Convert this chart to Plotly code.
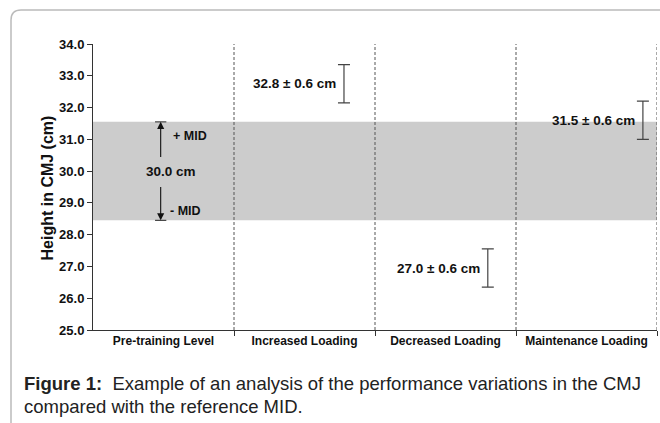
import plotly.graph_objects as go

# ---- data ----
categories = ["Pre-training Level", "Increased Loading", "Decreased Loading", "Maintenance Loading"]
baseline = 30.0
mid = 1.55
phase_means = [32.75, 26.95, 31.6]
phase_sd = [0.6, 0.6, 0.6]
phase_labels = ["32.8 ± 0.6 cm", "27.0 ± 0.6 cm", "31.5 ± 0.6 cm"]
phase_xpos = [1.78, 2.80, 3.90]
y_ticks = [25.0, 26.0, 27.0, 28.0, 29.0, 30.0, 31.0, 32.0, 33.0, 34.0]

W, H = 660, 423
L, R, T, B = 93, 3, 44, 93
pw, ph = W - L - R, H - T - B

def px(x):
    return (x - L) / pw

def py(y):
    return (H - B - y) / ph

FONT_N = "Liberation Sans, Arial, sans-serif"
FONT = "Liberation Sans, Arial, sans-serif"
INK = "#111111"

fig = go.Figure()

# MID band
fig.add_shape(type="rect", xref="x", yref="y", x0=0, x1=4,
              y0=baseline - mid, y1=baseline + mid,
              fillcolor="#cccccc", line_width=0, layer="below")

# dividers
for i in range(1, len(categories) + 1):
    fig.add_shape(type="line", xref="x", yref="y", x0=i, x1=i, y0=y_ticks[0], y1=y_ticks[-1],
                  line=dict(color="#555555", width=1, dash="3px,2px"), layer="above")

# error bars
fig.add_trace(go.Scatter(
    x=phase_xpos, y=phase_means, mode="markers",
    marker=dict(size=1, color="rgba(0,0,0,0)"),
    error_y=dict(type="data", array=phase_sd, visible=True, color="#444444", thickness=1.2, width=6),
    hoverinfo="skip", showlegend=False))

for xp, m, lab in zip(phase_xpos, phase_means, phase_labels):
    fig.add_annotation(x=xp - 0.04, y=m, xref="x", yref="y", text="<b>" + lab + "</b>",
                       showarrow=False, xanchor="right", yanchor="middle",
                       font=dict(family=FONT_N, size=13.5, color=INK))

# baseline arrows
ax_x = 0.48
fig.add_annotation(x=ax_x, y=baseline + mid, ax=ax_x, ay=baseline + 0.4, xref="x", yref="y",
                   axref="x", ayref="y", text="", showarrow=True, arrowhead=2, arrowsize=1.3,
                   arrowwidth=1.1, arrowcolor=INK, standoff=0)
fig.add_annotation(x=ax_x, y=baseline - mid, ax=ax_x, ay=baseline - 0.45, xref="x", yref="y",
                   axref="x", ayref="y", text="", showarrow=True, arrowhead=2, arrowsize=1.3,
                   arrowwidth=1.1, arrowcolor=INK, standoff=0)
for yy in (baseline + mid, baseline - mid):
    fig.add_shape(type="line", xref="x", yref="y", x0=ax_x - 0.04, x1=ax_x + 0.04, y0=yy, y1=yy,
                  line=dict(color="#444444", width=1.2))

fig.add_annotation(x=0.55, y=baseline, xref="x", yref="y", text="<b>30.0 cm</b>", showarrow=False,
                   font=dict(family=FONT_N, size=13.5, color=INK))
fig.add_annotation(x=0.555, y=baseline + 1.09, xref="x", yref="y", text="<b>+ MID</b>", showarrow=False,
                   xanchor="left", font=dict(family=FONT_N, size=12.5, color=INK))
fig.add_annotation(x=0.53, y=baseline - 1.26, xref="x", yref="y", text="<b>- MID</b>", showarrow=False,
                   xanchor="left", font=dict(family=FONT_N, size=12.5, color=INK))

# y axis title
fig.add_annotation(x=px(36), y=py(188), xref="paper", yref="paper", text="<b>Height in CMJ (cm)</b>",
                   textangle=-90, showarrow=False, font=dict(family=FONT_N, size=16, color=INK))

# caption
fig.add_annotation(x=px(22), y=py(383), xref="paper", yref="paper", xanchor="left", yanchor="middle",
                   text="<b>Figure 1:</b>&nbsp; Example of an analysis of the performance variations in the CMJ",
                   showarrow=False, font=dict(family=FONT, size=18.5, color="#222222"))
fig.add_annotation(x=px(22), y=py(406), xref="paper", yref="paper", xanchor="left", yanchor="middle",
                   text="compared with the reference MID.",
                   showarrow=False, font=dict(family=FONT, size=18.5, color="#222222"))

# rounded frame
r = 10
fig.add_shape(type="path", xref="paper", yref="paper",
              path=f"M {px(11)},{py(H+5)} L {px(11)},{py(10 + r)} Q {px(11)},{py(10)} {px(11 + r)},{py(10)} L {px(W+5)},{py(10)}",
              line=dict(color="#bbbbbb", width=1.5))

fig.update_layout(
    width=W, height=H, margin=dict(l=L, r=R, t=T, b=B),
    paper_bgcolor="white", plot_bgcolor="white", showlegend=False,
    xaxis=dict(range=[0, 4], tickvals=[0.5, 1.5, 2.5, 3.5], ticktext=["<b>" + c + "</b>" for c in categories],
               ticks="", showgrid=False, zeroline=False, showline=True, linecolor="#333333", linewidth=1,
               tickfont=dict(family=FONT_N, size=12, color=INK),
               minor=dict(tickvals=[1, 2, 3, 4], ticks="outside", ticklen=5, tickcolor="#333333", showgrid=False)),
    yaxis=dict(range=[25, 34], tickvals=y_ticks, ticktext=["<b>%.1f</b>" % v for v in y_ticks],
               ticks="outside", ticklen=5, tickcolor="#333333", showgrid=False, zeroline=False,
               showline=True, linecolor="#333333", linewidth=1,
               tickfont=dict(family=FONT_N, size=13, color=INK)),
)

fig.write_html("out.html", config={"displayModeBar": False},
               post_script="document.body.style.margin='0px';document.body.style.overflow='hidden';")
